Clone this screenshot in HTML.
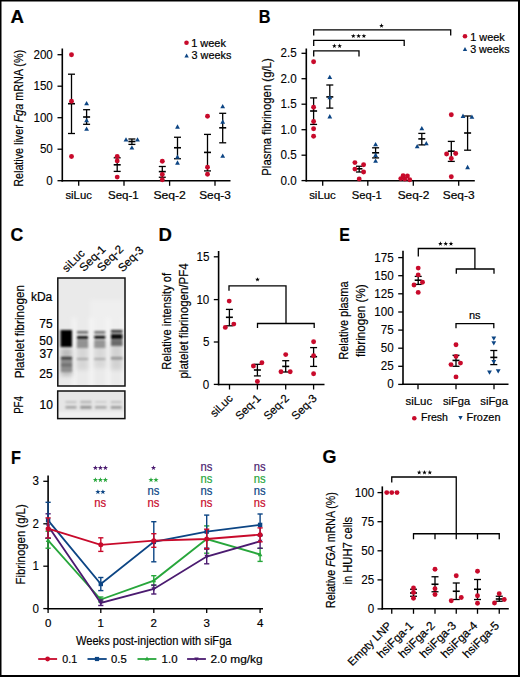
<!DOCTYPE html>
<html><head><meta charset="utf-8"><title>Figure</title>
<style>html,body{margin:0;padding:0;background:#fff;}svg{display:block;}
text{font-family:"Liberation Sans",sans-serif;}</style></head>
<body><svg width="520" height="677" viewBox="0 0 520 677">
<rect width="520" height="677" fill="#fff"/>
<text x="10.63" y="22.6" font-size="17.5" font-weight="bold" fill="#000" stroke="#000" stroke-width="0.2" textLength="13.47" lengthAdjust="spacingAndGlyphs">A</text>
<line x1="62.30" y1="48.50" x2="62.30" y2="181.60" stroke="#000" stroke-width="1.6"/>
<line x1="57.50" y1="54.70" x2="62.30" y2="54.70" stroke="#000" stroke-width="1.3"/>
<text x="33.43" y="58.6" font-size="12" font-weight="normal" fill="#000" stroke="#000" stroke-width="0.1" textLength="19.42" lengthAdjust="spacingAndGlyphs">200</text>
<line x1="57.50" y1="86.20" x2="62.30" y2="86.20" stroke="#000" stroke-width="1.3"/>
<text x="33.43" y="90.1" font-size="12" font-weight="normal" fill="#000" stroke="#000" stroke-width="0.1" textLength="19.42" lengthAdjust="spacingAndGlyphs">150</text>
<line x1="57.50" y1="117.70" x2="62.30" y2="117.70" stroke="#000" stroke-width="1.3"/>
<text x="33.43" y="121.6" font-size="12" font-weight="normal" fill="#000" stroke="#000" stroke-width="0.1" textLength="19.42" lengthAdjust="spacingAndGlyphs">100</text>
<line x1="57.50" y1="149.20" x2="62.30" y2="149.20" stroke="#000" stroke-width="1.3"/>
<text x="39.89" y="153.1" font-size="12" font-weight="normal" fill="#000" stroke="#000" stroke-width="0.1" textLength="12.95" lengthAdjust="spacingAndGlyphs">50</text>
<line x1="57.50" y1="180.70" x2="62.30" y2="180.70" stroke="#000" stroke-width="1.3"/>
<text x="46.35" y="184.6" font-size="12" font-weight="normal" fill="#000" stroke="#000" stroke-width="0.1" textLength="6.47" lengthAdjust="spacingAndGlyphs">0</text>
<line x1="61.50" y1="180.80" x2="230.50" y2="180.80" stroke="#000" stroke-width="1.6"/>
<line x1="78.70" y1="180.80" x2="78.70" y2="185.80" stroke="#000" stroke-width="1.3"/>
<line x1="124.00" y1="180.80" x2="124.00" y2="185.80" stroke="#000" stroke-width="1.3"/>
<line x1="169.60" y1="180.80" x2="169.60" y2="185.80" stroke="#000" stroke-width="1.3"/>
<line x1="215.00" y1="180.80" x2="215.00" y2="185.80" stroke="#000" stroke-width="1.3"/>
<text x="65.46" y="199.1" font-size="11" font-weight="normal" fill="#000" stroke="#000" stroke-width="0.2" textLength="26.42" lengthAdjust="spacingAndGlyphs">siLuc</text>
<text x="107.98" y="199.1" font-size="11" font-weight="normal" fill="#000" stroke="#000" stroke-width="0.2" textLength="30.83" lengthAdjust="spacingAndGlyphs">Seq-1</text>
<text x="153.45" y="199.1" font-size="11" font-weight="normal" fill="#000" stroke="#000" stroke-width="0.2" textLength="32.45" lengthAdjust="spacingAndGlyphs">Seq-2</text>
<text x="199.22" y="199.1" font-size="11" font-weight="normal" fill="#000" stroke="#000" stroke-width="0.2" textLength="31.55" lengthAdjust="spacingAndGlyphs">Seq-3</text>
<line x1="71.50" y1="74.20" x2="71.50" y2="133.50" stroke="#000" stroke-width="1.3"/>
<line x1="68.00" y1="74.20" x2="75.00" y2="74.20" stroke="#000" stroke-width="1.3"/>
<line x1="68.00" y1="133.50" x2="75.00" y2="133.50" stroke="#000" stroke-width="1.3"/>
<line x1="68.00" y1="103.70" x2="75.00" y2="103.70" stroke="#000" stroke-width="1.6"/>
<circle cx="71.50" cy="54.80" r="2.45" fill="#c80a2b"/>
<circle cx="71.50" cy="101.30" r="2.45" fill="#c80a2b"/>
<circle cx="71.50" cy="156.50" r="2.45" fill="#c80a2b"/>
<line x1="86.60" y1="109.70" x2="86.60" y2="124.30" stroke="#000" stroke-width="1.3"/>
<line x1="83.10" y1="109.70" x2="90.10" y2="109.70" stroke="#000" stroke-width="1.3"/>
<line x1="83.10" y1="124.30" x2="90.10" y2="124.30" stroke="#000" stroke-width="1.3"/>
<line x1="83.10" y1="117.00" x2="90.10" y2="117.00" stroke="#000" stroke-width="1.6"/>
<polygon points="86.60,100.91 89.00,105.23 84.20,105.23" fill="#0c4584"/>
<polygon points="86.60,118.01 89.00,122.33 84.20,122.33" fill="#0c4584"/>
<polygon points="86.60,126.41 89.00,130.73 84.20,130.73" fill="#0c4584"/>
<line x1="117.20" y1="157.80" x2="117.20" y2="171.40" stroke="#000" stroke-width="1.3"/>
<line x1="113.70" y1="157.80" x2="120.70" y2="157.80" stroke="#000" stroke-width="1.3"/>
<line x1="113.70" y1="171.40" x2="120.70" y2="171.40" stroke="#000" stroke-width="1.3"/>
<line x1="113.70" y1="164.80" x2="120.70" y2="164.80" stroke="#000" stroke-width="1.6"/>
<circle cx="117.20" cy="156.50" r="2.45" fill="#c80a2b"/>
<circle cx="117.20" cy="160.90" r="2.45" fill="#c80a2b"/>
<circle cx="117.20" cy="177.10" r="2.45" fill="#c80a2b"/>
<line x1="131.90" y1="139.00" x2="131.90" y2="144.40" stroke="#000" stroke-width="1.3"/>
<line x1="128.40" y1="139.00" x2="135.40" y2="139.00" stroke="#000" stroke-width="1.3"/>
<line x1="128.40" y1="144.40" x2="135.40" y2="144.40" stroke="#000" stroke-width="1.3"/>
<line x1="128.40" y1="141.50" x2="135.40" y2="141.50" stroke="#000" stroke-width="1.6"/>
<polygon points="126.00,137.16 128.40,141.48 123.60,141.48" fill="#0c4584"/>
<polygon points="137.50,137.16 139.90,141.48 135.10,141.48" fill="#0c4584"/>
<polygon points="131.90,145.16 134.30,149.48 129.50,149.48" fill="#0c4584"/>
<line x1="162.30" y1="166.50" x2="162.30" y2="177.25" stroke="#000" stroke-width="1.3"/>
<line x1="158.80" y1="166.50" x2="165.80" y2="166.50" stroke="#000" stroke-width="1.3"/>
<line x1="158.80" y1="177.25" x2="165.80" y2="177.25" stroke="#000" stroke-width="1.3"/>
<line x1="158.80" y1="171.60" x2="165.80" y2="171.60" stroke="#000" stroke-width="1.6"/>
<circle cx="162.30" cy="161.25" r="2.45" fill="#c80a2b"/>
<circle cx="162.30" cy="174.40" r="2.45" fill="#c80a2b"/>
<circle cx="162.30" cy="179.75" r="2.45" fill="#c80a2b"/>
<line x1="177.50" y1="137.25" x2="177.50" y2="158.75" stroke="#000" stroke-width="1.3"/>
<line x1="174.00" y1="137.25" x2="181.00" y2="137.25" stroke="#000" stroke-width="1.3"/>
<line x1="174.00" y1="158.75" x2="181.00" y2="158.75" stroke="#000" stroke-width="1.3"/>
<line x1="174.00" y1="147.75" x2="181.00" y2="147.75" stroke="#000" stroke-width="1.6"/>
<polygon points="177.50,124.31 179.90,128.63 175.10,128.63" fill="#0c4584"/>
<polygon points="177.50,154.51 179.90,158.83 175.10,158.83" fill="#0c4584"/>
<polygon points="177.50,160.31 179.90,164.63 175.10,164.63" fill="#0c4584"/>
<line x1="207.50" y1="134.40" x2="207.50" y2="170.90" stroke="#000" stroke-width="1.3"/>
<line x1="204.00" y1="134.40" x2="211.00" y2="134.40" stroke="#000" stroke-width="1.3"/>
<line x1="204.00" y1="170.90" x2="211.00" y2="170.90" stroke="#000" stroke-width="1.3"/>
<line x1="204.00" y1="152.40" x2="211.00" y2="152.40" stroke="#000" stroke-width="1.6"/>
<circle cx="207.50" cy="116.20" r="2.45" fill="#c80a2b"/>
<circle cx="207.50" cy="167.20" r="2.45" fill="#c80a2b"/>
<circle cx="207.50" cy="174.30" r="2.45" fill="#c80a2b"/>
<line x1="222.70" y1="113.30" x2="222.70" y2="142.80" stroke="#000" stroke-width="1.3"/>
<line x1="219.20" y1="113.30" x2="226.20" y2="113.30" stroke="#000" stroke-width="1.3"/>
<line x1="219.20" y1="142.80" x2="226.20" y2="142.80" stroke="#000" stroke-width="1.3"/>
<line x1="219.20" y1="127.80" x2="226.20" y2="127.80" stroke="#000" stroke-width="1.6"/>
<polygon points="222.70,104.01 225.10,108.33 220.30,108.33" fill="#0c4584"/>
<polygon points="222.70,119.31 225.10,123.63 220.30,123.63" fill="#0c4584"/>
<polygon points="222.70,153.51 225.10,157.83 220.30,157.83" fill="#0c4584"/>
<circle cx="186.50" cy="42.80" r="2.3" fill="#c80a2b"/>
<text x="191.18" y="46.8" font-size="10.5" font-weight="normal" fill="#000" stroke="#000" stroke-width="0.2" textLength="34.81" lengthAdjust="spacingAndGlyphs">1 week</text>
<polygon points="186.60,53.62 188.80,57.58 184.40,57.58" fill="#0c4584"/>
<text x="191.57" y="59.2" font-size="10.5" font-weight="normal" fill="#000" stroke="#000" stroke-width="0.2" textLength="39.80" lengthAdjust="spacingAndGlyphs">3 weeks</text>
<text transform="translate(23.2,185.9) rotate(-90)" x="-0.86" y="0" font-size="13.6" font-weight="normal" fill="#000" stroke="#000" stroke-width="0.2" textLength="136.86" lengthAdjust="spacingAndGlyphs">Relative liver <tspan font-style="italic">Fga</tspan> mRNA (%)</text>
<text x="258.85" y="22.6" font-size="17.5" font-weight="bold" fill="#000" stroke="#000" stroke-width="0.2" textLength="11.72" lengthAdjust="spacingAndGlyphs">B</text>
<line x1="306.30" y1="48.50" x2="306.30" y2="181.50" stroke="#000" stroke-width="1.6"/>
<line x1="301.50" y1="53.30" x2="306.30" y2="53.30" stroke="#000" stroke-width="1.3"/>
<text x="280.59" y="57.2" font-size="12" font-weight="normal" fill="#000" stroke="#000" stroke-width="0.1" textLength="16.18" lengthAdjust="spacingAndGlyphs">2.5</text>
<line x1="301.50" y1="78.70" x2="306.30" y2="78.70" stroke="#000" stroke-width="1.3"/>
<text x="280.53" y="82.6" font-size="12" font-weight="normal" fill="#000" stroke="#000" stroke-width="0.1" textLength="16.18" lengthAdjust="spacingAndGlyphs">2.0</text>
<line x1="301.50" y1="104.20" x2="306.30" y2="104.20" stroke="#000" stroke-width="1.3"/>
<text x="280.59" y="108.1" font-size="12" font-weight="normal" fill="#000" stroke="#000" stroke-width="0.1" textLength="16.18" lengthAdjust="spacingAndGlyphs">1.5</text>
<line x1="301.50" y1="129.70" x2="306.30" y2="129.70" stroke="#000" stroke-width="1.3"/>
<text x="280.53" y="133.6" font-size="12" font-weight="normal" fill="#000" stroke="#000" stroke-width="0.1" textLength="16.18" lengthAdjust="spacingAndGlyphs">1.0</text>
<line x1="301.50" y1="155.20" x2="306.30" y2="155.20" stroke="#000" stroke-width="1.3"/>
<text x="280.59" y="159.1" font-size="12" font-weight="normal" fill="#000" stroke="#000" stroke-width="0.1" textLength="16.18" lengthAdjust="spacingAndGlyphs">0.5</text>
<line x1="301.50" y1="180.60" x2="306.30" y2="180.60" stroke="#000" stroke-width="1.3"/>
<text x="280.53" y="184.5" font-size="12" font-weight="normal" fill="#000" stroke="#000" stroke-width="0.1" textLength="16.18" lengthAdjust="spacingAndGlyphs">0.0</text>
<line x1="305.50" y1="180.70" x2="474.80" y2="180.70" stroke="#000" stroke-width="1.6"/>
<line x1="322.70" y1="180.70" x2="322.70" y2="185.70" stroke="#000" stroke-width="1.3"/>
<line x1="367.80" y1="180.70" x2="367.80" y2="185.70" stroke="#000" stroke-width="1.3"/>
<line x1="413.30" y1="180.70" x2="413.30" y2="185.70" stroke="#000" stroke-width="1.3"/>
<line x1="458.70" y1="180.70" x2="458.70" y2="185.70" stroke="#000" stroke-width="1.3"/>
<text x="309.16" y="199.2" font-size="11" font-weight="normal" fill="#000" stroke="#000" stroke-width="0.2" textLength="26.62" lengthAdjust="spacingAndGlyphs">siLuc</text>
<text x="351.89" y="199.2" font-size="11" font-weight="normal" fill="#000" stroke="#000" stroke-width="0.2" textLength="29.95" lengthAdjust="spacingAndGlyphs">Seq-1</text>
<text x="397.67" y="199.2" font-size="11" font-weight="normal" fill="#000" stroke="#000" stroke-width="0.2" textLength="31.67" lengthAdjust="spacingAndGlyphs">Seq-2</text>
<text x="442.76" y="199.2" font-size="11" font-weight="normal" fill="#000" stroke="#000" stroke-width="0.2" textLength="31.75" lengthAdjust="spacingAndGlyphs">Seq-3</text>
<line x1="313.60" y1="97.90" x2="313.60" y2="124.40" stroke="#000" stroke-width="1.3"/>
<line x1="310.10" y1="97.90" x2="317.10" y2="97.90" stroke="#000" stroke-width="1.3"/>
<line x1="310.10" y1="124.40" x2="317.10" y2="124.40" stroke="#000" stroke-width="1.3"/>
<line x1="310.10" y1="111.00" x2="317.10" y2="111.00" stroke="#000" stroke-width="1.6"/>
<circle cx="313.60" cy="61.80" r="2.45" fill="#c80a2b"/>
<circle cx="313.60" cy="107.20" r="2.45" fill="#c80a2b"/>
<circle cx="313.60" cy="121.50" r="2.45" fill="#c80a2b"/>
<circle cx="313.60" cy="128.70" r="2.45" fill="#c80a2b"/>
<circle cx="313.60" cy="136.30" r="2.45" fill="#c80a2b"/>
<line x1="329.80" y1="85.00" x2="329.80" y2="108.10" stroke="#000" stroke-width="1.3"/>
<line x1="326.30" y1="85.00" x2="333.30" y2="85.00" stroke="#000" stroke-width="1.3"/>
<line x1="326.30" y1="108.10" x2="333.30" y2="108.10" stroke="#000" stroke-width="1.3"/>
<line x1="326.30" y1="96.90" x2="333.30" y2="96.90" stroke="#000" stroke-width="1.6"/>
<polygon points="329.80,74.71 332.20,79.03 327.40,79.03" fill="#0c4584"/>
<polygon points="329.80,94.91 332.20,99.23 327.40,99.23" fill="#0c4584"/>
<polygon points="329.80,114.11 332.20,118.43 327.40,118.43" fill="#0c4584"/>
<line x1="359.20" y1="166.25" x2="359.20" y2="172.00" stroke="#000" stroke-width="1.3"/>
<line x1="355.95" y1="166.25" x2="362.45" y2="166.25" stroke="#000" stroke-width="1.3"/>
<line x1="355.95" y1="172.00" x2="362.45" y2="172.00" stroke="#000" stroke-width="1.3"/>
<line x1="355.95" y1="168.80" x2="362.45" y2="168.80" stroke="#000" stroke-width="1.6"/>
<circle cx="354.90" cy="162.60" r="2.45" fill="#c80a2b"/>
<circle cx="363.60" cy="164.80" r="2.45" fill="#c80a2b"/>
<circle cx="354.90" cy="169.10" r="2.45" fill="#c80a2b"/>
<circle cx="363.60" cy="172.00" r="2.45" fill="#c80a2b"/>
<circle cx="359.20" cy="179.00" r="2.45" fill="#c80a2b"/>
<line x1="375.60" y1="147.80" x2="375.60" y2="157.90" stroke="#000" stroke-width="1.3"/>
<line x1="372.10" y1="147.80" x2="379.10" y2="147.80" stroke="#000" stroke-width="1.3"/>
<line x1="372.10" y1="157.90" x2="379.10" y2="157.90" stroke="#000" stroke-width="1.3"/>
<line x1="372.10" y1="152.80" x2="379.10" y2="152.80" stroke="#000" stroke-width="1.6"/>
<polygon points="375.60,142.01 378.00,146.33 373.20,146.33" fill="#0c4584"/>
<polygon points="375.60,152.61 378.00,156.93 373.20,156.93" fill="#0c4584"/>
<polygon points="375.60,158.41 378.00,162.73 373.20,162.73" fill="#0c4584"/>
<circle cx="400.80" cy="178.60" r="2.45" fill="#c80a2b"/>
<circle cx="403.10" cy="175.70" r="2.45" fill="#c80a2b"/>
<circle cx="407.40" cy="176.00" r="2.45" fill="#c80a2b"/>
<circle cx="404.80" cy="179.10" r="2.45" fill="#c80a2b"/>
<circle cx="409.70" cy="179.70" r="2.45" fill="#c80a2b"/>
<line x1="421.80" y1="133.40" x2="421.80" y2="144.90" stroke="#000" stroke-width="1.3"/>
<line x1="418.30" y1="133.40" x2="425.30" y2="133.40" stroke="#000" stroke-width="1.3"/>
<line x1="418.30" y1="144.90" x2="425.30" y2="144.90" stroke="#000" stroke-width="1.3"/>
<line x1="418.30" y1="138.90" x2="425.30" y2="138.90" stroke="#000" stroke-width="1.6"/>
<polygon points="421.80,125.91 424.20,130.23 419.40,130.23" fill="#0c4584"/>
<polygon points="417.20,143.91 419.60,148.23 414.80,148.23" fill="#0c4584"/>
<polygon points="426.30,140.91 428.70,145.23 423.90,145.23" fill="#0c4584"/>
<line x1="451.30" y1="141.40" x2="451.30" y2="161.40" stroke="#000" stroke-width="1.3"/>
<line x1="447.80" y1="141.40" x2="454.80" y2="141.40" stroke="#000" stroke-width="1.3"/>
<line x1="447.80" y1="161.40" x2="454.80" y2="161.40" stroke="#000" stroke-width="1.3"/>
<line x1="447.80" y1="151.20" x2="454.80" y2="151.20" stroke="#000" stroke-width="1.6"/>
<circle cx="451.30" cy="114.70" r="2.45" fill="#c80a2b"/>
<circle cx="446.60" cy="154.00" r="2.45" fill="#c80a2b"/>
<circle cx="455.70" cy="153.50" r="2.45" fill="#c80a2b"/>
<circle cx="451.30" cy="158.50" r="2.45" fill="#c80a2b"/>
<circle cx="451.30" cy="176.70" r="2.45" fill="#c80a2b"/>
<line x1="467.60" y1="116.00" x2="467.60" y2="150.20" stroke="#000" stroke-width="1.3"/>
<line x1="464.10" y1="116.00" x2="471.10" y2="116.00" stroke="#000" stroke-width="1.3"/>
<line x1="464.10" y1="150.20" x2="471.10" y2="150.20" stroke="#000" stroke-width="1.3"/>
<line x1="464.10" y1="133.00" x2="471.10" y2="133.00" stroke="#000" stroke-width="1.6"/>
<polygon points="463.00,113.61 465.40,117.93 460.60,117.93" fill="#0c4584"/>
<polygon points="471.90,114.41 474.30,118.73 469.50,118.73" fill="#0c4584"/>
<polygon points="467.60,164.81 470.00,169.13 465.20,169.13" fill="#0c4584"/>
<polyline points="313.70,35.40 313.70,29.90 450.70,29.90 450.70,35.40" fill="none" stroke="#000" stroke-width="1.3" stroke-linejoin="miter"/>
<polyline points="313.70,46.00 313.70,40.40 404.20,40.40 404.20,46.00" fill="none" stroke="#000" stroke-width="1.3" stroke-linejoin="miter"/>
<polyline points="313.70,56.40 313.70,50.80 359.00,50.80 359.00,56.40" fill="none" stroke="#000" stroke-width="1.3" stroke-linejoin="miter"/>
<polygon points="334.35,43.55 334.93,45.21 336.68,45.24 335.28,46.30 335.79,47.98 334.35,46.98 332.91,47.98 333.42,46.30 332.02,45.24 333.77,45.21" fill="#000"/>
<polygon points="339.65,43.55 340.23,45.21 341.98,45.24 340.58,46.30 341.09,47.98 339.65,46.98 338.21,47.98 338.72,46.30 337.32,45.24 339.07,45.21" fill="#000"/>
<polygon points="353.30,33.65 353.88,35.31 355.63,35.34 354.23,36.40 354.74,38.08 353.30,37.08 351.86,38.08 352.37,36.40 350.97,35.34 352.72,35.31" fill="#000"/>
<polygon points="358.60,33.65 359.18,35.31 360.93,35.34 359.53,36.40 360.04,38.08 358.60,37.08 357.16,38.08 357.67,36.40 356.27,35.34 358.02,35.31" fill="#000"/>
<polygon points="363.90,33.65 364.48,35.31 366.23,35.34 364.83,36.40 365.34,38.08 363.90,37.08 362.46,38.08 362.97,36.40 361.57,35.34 363.32,35.31" fill="#000"/>
<polygon points="381.50,23.35 382.08,25.01 383.83,25.04 382.43,26.10 382.94,27.78 381.50,26.78 380.06,27.78 380.57,26.10 379.17,25.04 380.92,25.01" fill="#000"/>
<circle cx="465.00" cy="36.30" r="2.3" fill="#c80a2b"/>
<text x="470.28" y="40.6" font-size="10.5" font-weight="normal" fill="#000" stroke="#000" stroke-width="0.2" textLength="34.50" lengthAdjust="spacingAndGlyphs">1 week</text>
<polygon points="465.00,46.92 467.20,50.88 462.80,50.88" fill="#0c4584"/>
<text x="470.17" y="52.7" font-size="10.5" font-weight="normal" fill="#000" stroke="#000" stroke-width="0.2" textLength="39.39" lengthAdjust="spacingAndGlyphs">3 weeks</text>
<text transform="translate(270.8,174.8) rotate(-90)" x="-0.91" y="0" font-size="13.6" font-weight="normal" fill="#000" stroke="#000" stroke-width="0.2" textLength="117.43" lengthAdjust="spacingAndGlyphs">Plasma fibrinogen (g/L)</text>
<text x="10.59" y="241.0" font-size="17.5" font-weight="bold" fill="#000" stroke="#000" stroke-width="0.2" textLength="12.79" lengthAdjust="spacingAndGlyphs">C</text>

<defs>
<filter id="bl1" x="-50%" y="-50%" width="200%" height="200%"><feGaussianBlur stdDeviation="1.2"/></filter>
<filter id="bl2" x="-50%" y="-50%" width="200%" height="200%"><feGaussianBlur stdDeviation="2.2"/></filter>
<filter id="bl0" x="-50%" y="-50%" width="200%" height="200%"><feGaussianBlur stdDeviation="0.95"/></filter>
<clipPath id="cpb"><rect x="57.8" y="278" width="67" height="108"/></clipPath>
<clipPath id="cpp"><rect x="57.8" y="391" width="67" height="27.5"/></clipPath>
</defs>
<g clip-path="url(#cpb)">
<rect x="57" y="277" width="69" height="110" fill="#eaeaea"/>
<rect x="90" y="300" width="36" height="40" fill="#efefef" filter="url(#bl2)"/>
<g filter="url(#bl2)" fill="#f6f6f6">
<rect x="72.5" y="318" width="3.5" height="72"/>
<rect x="89.5" y="318" width="4" height="72"/>
<rect x="106.5" y="318" width="3.5" height="72"/>
<rect x="122.5" y="318" width="4" height="72"/>
</g>
<g filter="url(#bl2)">
<rect x="61" y="348" width="11" height="28" fill="#bdbdbd"/>
<rect x="77" y="342" width="11" height="28" fill="#d6d6d6"/>
<rect x="94.5" y="342" width="11" height="26" fill="#d8d8d8"/>
<rect x="111" y="342" width="11" height="28" fill="#d2d2d2"/>
</g>
<g filter="url(#bl1)">
<rect x="60.5" y="330" width="11.5" height="17" fill="#050505"/>
<rect x="61" y="357" width="11" height="15" fill="#8e8e8e"/>
<rect x="61" y="357" width="11" height="2.4" fill="#2a2a2a"/>
<rect x="61" y="363.5" width="11" height="3" fill="#6e6e6e"/>
<rect x="77" y="331" width="11" height="2.6" fill="#6a6a6a"/>
<rect x="77" y="336" width="11" height="3.4" fill="#181818"/>
<rect x="77" y="340" width="11" height="8" fill="#929292"/>
<rect x="77" y="358" width="11" height="2" fill="#a8a8a8"/>
<rect x="94.3" y="331" width="11" height="2.6" fill="#707070"/>
<rect x="94.3" y="335.6" width="11" height="3.4" fill="#151515"/>
<rect x="94.3" y="340" width="11" height="8" fill="#969696"/>
<rect x="94.3" y="358" width="11" height="2" fill="#ababab"/>
<rect x="111" y="330" width="11.5" height="2.6" fill="#2a2a2a"/>
<rect x="111" y="334" width="11.5" height="5.5" fill="#0a0a0a"/>
<rect x="111" y="340" width="11.5" height="6" fill="#6a6a6a"/>
<rect x="111" y="357" width="11.5" height="2.5" fill="#8f8f8f"/>
</g>
</g>
<rect x="57.8" y="278" width="67.2" height="108" fill="none" stroke="#111" stroke-width="1.5"/>
<g clip-path="url(#cpp)">
<rect x="57" y="390" width="69" height="30" fill="#e6e6e6"/>
<rect x="57" y="412" width="69" height="8" fill="#f0f0f0" filter="url(#bl1)"/>
<g filter="url(#bl0)">
<rect x="65.5" y="401" width="11" height="2.2" fill="#c2c2c2"/>
<rect x="65.5" y="406" width="11" height="2.6" fill="#a2a2a2"/>
<rect x="80.3" y="400.8" width="11.2" height="2.4" fill="#b4b4b4"/>
<rect x="80.3" y="405.8" width="11.2" height="3" fill="#939393"/>
<rect x="95" y="401" width="11.5" height="2" fill="#cdcdcd"/>
<rect x="95" y="406" width="11.5" height="2.6" fill="#a6a6a6"/>
<rect x="110.8" y="401" width="10.8" height="2.2" fill="#c0c0c0"/>
<rect x="110.8" y="406" width="10.8" height="2.8" fill="#9c9c9c"/>
</g>
</g>
<rect x="57.7" y="391" width="67.2" height="27.6" fill="none" stroke="#111" stroke-width="1.5"/>

<text x="30.90" y="300.6" font-size="12" font-weight="normal" fill="#000" stroke="#000" stroke-width="0.2" textLength="21.34" lengthAdjust="spacingAndGlyphs">kDa</text>
<text x="39.36" y="327.5" font-size="12" font-weight="normal" fill="#000" stroke="#000" stroke-width="0.2" textLength="13.35" lengthAdjust="spacingAndGlyphs">75</text>
<text x="39.30" y="345.1" font-size="12" font-weight="normal" fill="#000" stroke="#000" stroke-width="0.2" textLength="13.35" lengthAdjust="spacingAndGlyphs">50</text>
<text x="39.48" y="357.9" font-size="12" font-weight="normal" fill="#000" stroke="#000" stroke-width="0.2" textLength="13.35" lengthAdjust="spacingAndGlyphs">37</text>
<text x="39.36" y="377.6" font-size="12" font-weight="normal" fill="#000" stroke="#000" stroke-width="0.2" textLength="13.35" lengthAdjust="spacingAndGlyphs">25</text>
<text x="39.50" y="408.8" font-size="12" font-weight="normal" fill="#000" stroke="#000" stroke-width="0.2" textLength="13.35" lengthAdjust="spacingAndGlyphs">10</text>
<text transform="translate(23.5,377.4) rotate(-90)" x="-0.93" y="0" font-size="13.6" font-weight="normal" fill="#000" stroke="#000" stroke-width="0.2" textLength="93.20" lengthAdjust="spacingAndGlyphs">Platelet fibrinogen</text>
<text transform="translate(22.9,413.1) rotate(-90)" x="-0.78" y="0" font-size="13.6" font-weight="normal" fill="#000" stroke="#000" stroke-width="0.2" textLength="17.86" lengthAdjust="spacingAndGlyphs">PF4</text>
<text transform="translate(67.1,272.4) rotate(-45)" x="-0.34" y="0" font-size="11.3" fill="#000" stroke="#000" stroke-width="0.2" textLength="26.21" lengthAdjust="spacingAndGlyphs">siLuc</text>
<text transform="translate(84.4,271.9) rotate(-45)" x="-0.53" y="0" font-size="11.5" fill="#000" stroke="#000" stroke-width="0.2" textLength="31.50" lengthAdjust="spacingAndGlyphs">Seq-1</text>
<text transform="translate(102.1,271.9) rotate(-45)" x="-0.53" y="0" font-size="11.5" fill="#000" stroke="#000" stroke-width="0.2" textLength="31.57" lengthAdjust="spacingAndGlyphs">Seq-2</text>
<text transform="translate(123.0,272.2) rotate(-45)" x="-0.52" y="0" font-size="11.5" fill="#000" stroke="#000" stroke-width="0.2" textLength="30.62" lengthAdjust="spacingAndGlyphs">Seq-3</text>
<text x="158.40" y="241.1" font-size="17.5" font-weight="bold" fill="#000" stroke="#000" stroke-width="0.2" textLength="13.39" lengthAdjust="spacingAndGlyphs">D</text>
<line x1="218.60" y1="251.00" x2="218.60" y2="385.30" stroke="#000" stroke-width="1.6"/>
<line x1="213.80" y1="256.80" x2="218.60" y2="256.80" stroke="#000" stroke-width="1.3"/>
<text x="196.45" y="261.0" font-size="12" font-weight="normal" fill="#000" stroke="#000" stroke-width="0.1" textLength="12.95" lengthAdjust="spacingAndGlyphs">15</text>
<line x1="213.80" y1="299.60" x2="218.60" y2="299.60" stroke="#000" stroke-width="1.3"/>
<text x="196.39" y="303.8" font-size="12" font-weight="normal" fill="#000" stroke="#000" stroke-width="0.1" textLength="12.95" lengthAdjust="spacingAndGlyphs">10</text>
<line x1="213.80" y1="342.00" x2="218.60" y2="342.00" stroke="#000" stroke-width="1.3"/>
<text x="202.91" y="346.2" font-size="12" font-weight="normal" fill="#000" stroke="#000" stroke-width="0.1" textLength="6.47" lengthAdjust="spacingAndGlyphs">5</text>
<line x1="213.80" y1="384.40" x2="218.60" y2="384.40" stroke="#000" stroke-width="1.3"/>
<text x="202.85" y="388.6" font-size="12" font-weight="normal" fill="#000" stroke="#000" stroke-width="0.1" textLength="6.47" lengthAdjust="spacingAndGlyphs">0</text>
<line x1="217.80" y1="384.50" x2="324.50" y2="384.50" stroke="#000" stroke-width="1.6"/>
<line x1="229.50" y1="384.50" x2="229.50" y2="389.50" stroke="#000" stroke-width="1.3"/>
<line x1="257.40" y1="384.50" x2="257.40" y2="389.50" stroke="#000" stroke-width="1.3"/>
<line x1="285.70" y1="384.50" x2="285.70" y2="389.50" stroke="#000" stroke-width="1.3"/>
<line x1="313.60" y1="384.50" x2="313.60" y2="389.50" stroke="#000" stroke-width="1.3"/>
<text transform="translate(214.68,417.82) rotate(-45)" x="0" y="0" font-size="11.4" fill="#000" stroke="#000" stroke-width="0.2">siLuc</text>
<text transform="translate(239.89,420.51) rotate(-45)" x="0" y="0" font-size="11.4" fill="#000" stroke="#000" stroke-width="0.2">Seq-1</text>
<text transform="translate(268.19,420.51) rotate(-45)" x="0" y="0" font-size="11.4" fill="#000" stroke="#000" stroke-width="0.2">Seq-2</text>
<text transform="translate(296.09,420.51) rotate(-45)" x="0" y="0" font-size="11.4" fill="#000" stroke="#000" stroke-width="0.2">Seq-3</text>
<line x1="229.40" y1="309.40" x2="229.40" y2="325.80" stroke="#000" stroke-width="1.3"/>
<line x1="225.90" y1="309.40" x2="232.90" y2="309.40" stroke="#000" stroke-width="1.3"/>
<line x1="225.90" y1="325.80" x2="232.90" y2="325.80" stroke="#000" stroke-width="1.3"/>
<line x1="225.90" y1="317.30" x2="232.90" y2="317.30" stroke="#000" stroke-width="1.6"/>
<circle cx="229.20" cy="301.10" r="2.45" fill="#c80a2b"/>
<circle cx="225.30" cy="327.40" r="2.45" fill="#c80a2b"/>
<circle cx="233.80" cy="324.10" r="2.45" fill="#c80a2b"/>
<line x1="257.40" y1="364.30" x2="257.40" y2="375.90" stroke="#000" stroke-width="1.3"/>
<line x1="253.90" y1="364.30" x2="260.90" y2="364.30" stroke="#000" stroke-width="1.3"/>
<line x1="253.90" y1="375.90" x2="260.90" y2="375.90" stroke="#000" stroke-width="1.3"/>
<line x1="253.90" y1="370.00" x2="260.90" y2="370.00" stroke="#000" stroke-width="1.6"/>
<circle cx="253.40" cy="366.00" r="2.45" fill="#c80a2b"/>
<circle cx="261.90" cy="362.70" r="2.45" fill="#c80a2b"/>
<circle cx="257.40" cy="381.50" r="2.45" fill="#c80a2b"/>
<line x1="285.70" y1="360.70" x2="285.70" y2="372.00" stroke="#000" stroke-width="1.3"/>
<line x1="282.20" y1="360.70" x2="289.20" y2="360.70" stroke="#000" stroke-width="1.3"/>
<line x1="282.20" y1="372.00" x2="289.20" y2="372.00" stroke="#000" stroke-width="1.3"/>
<line x1="282.20" y1="366.40" x2="289.20" y2="366.40" stroke="#000" stroke-width="1.6"/>
<circle cx="285.70" cy="354.60" r="2.45" fill="#c80a2b"/>
<circle cx="281.00" cy="371.80" r="2.45" fill="#c80a2b"/>
<circle cx="290.20" cy="371.80" r="2.45" fill="#c80a2b"/>
<line x1="313.60" y1="347.60" x2="313.60" y2="366.40" stroke="#000" stroke-width="1.3"/>
<line x1="310.10" y1="347.60" x2="317.10" y2="347.60" stroke="#000" stroke-width="1.3"/>
<line x1="310.10" y1="366.40" x2="317.10" y2="366.40" stroke="#000" stroke-width="1.3"/>
<line x1="310.10" y1="356.70" x2="317.10" y2="356.70" stroke="#000" stroke-width="1.6"/>
<circle cx="313.60" cy="341.70" r="2.45" fill="#c80a2b"/>
<circle cx="313.60" cy="355.70" r="2.45" fill="#c80a2b"/>
<circle cx="313.60" cy="373.80" r="2.45" fill="#c80a2b"/>
<polyline points="229.00,290.80 229.00,285.80 286.00,285.80 286.00,323.50" fill="none" stroke="#000" stroke-width="1.3" stroke-linejoin="miter"/>
<polyline points="257.50,328.00 257.50,323.50 314.20,323.50 314.20,328.00" fill="none" stroke="#000" stroke-width="1.3" stroke-linejoin="miter"/>
<polygon points="257.50,277.15 258.08,278.81 259.83,278.84 258.43,279.90 258.94,281.58 257.50,280.58 256.06,281.58 256.57,279.90 255.17,278.84 256.92,278.81" fill="#000"/>
<text transform="translate(170.5,368.9) rotate(-90)" x="-0.89" y="0" font-size="13.6" font-weight="normal" fill="#000" stroke="#000" stroke-width="0.2" textLength="96.95" lengthAdjust="spacingAndGlyphs">Relative intensity of</text>
<text transform="translate(187.7,377.8) rotate(-90)" x="-0.75" y="0" font-size="13.6" font-weight="normal" fill="#000" stroke="#000" stroke-width="0.2" textLength="115.21" lengthAdjust="spacingAndGlyphs">platelet fibrinogen/PF4</text>
<text x="339.26" y="241.0" font-size="17.5" font-weight="bold" fill="#000" stroke="#000" stroke-width="0.2" textLength="10.63" lengthAdjust="spacingAndGlyphs">E</text>
<line x1="403.00" y1="250.80" x2="403.00" y2="385.10" stroke="#000" stroke-width="1.6"/>
<line x1="398.20" y1="257.60" x2="403.00" y2="257.60" stroke="#000" stroke-width="1.3"/>
<text x="374.29" y="261.5" font-size="12" font-weight="normal" fill="#000" stroke="#000" stroke-width="0.1" textLength="19.42" lengthAdjust="spacingAndGlyphs">175</text>
<line x1="398.20" y1="275.70" x2="403.00" y2="275.70" stroke="#000" stroke-width="1.3"/>
<text x="374.23" y="279.6" font-size="12" font-weight="normal" fill="#000" stroke="#000" stroke-width="0.1" textLength="19.42" lengthAdjust="spacingAndGlyphs">150</text>
<line x1="398.20" y1="293.80" x2="403.00" y2="293.80" stroke="#000" stroke-width="1.3"/>
<text x="374.29" y="297.7" font-size="12" font-weight="normal" fill="#000" stroke="#000" stroke-width="0.1" textLength="19.42" lengthAdjust="spacingAndGlyphs">125</text>
<line x1="398.20" y1="312.00" x2="403.00" y2="312.00" stroke="#000" stroke-width="1.3"/>
<text x="374.23" y="315.9" font-size="12" font-weight="normal" fill="#000" stroke="#000" stroke-width="0.1" textLength="19.42" lengthAdjust="spacingAndGlyphs">100</text>
<line x1="398.20" y1="330.10" x2="403.00" y2="330.10" stroke="#000" stroke-width="1.3"/>
<text x="380.75" y="334.0" font-size="12" font-weight="normal" fill="#000" stroke="#000" stroke-width="0.1" textLength="12.95" lengthAdjust="spacingAndGlyphs">75</text>
<line x1="398.20" y1="348.20" x2="403.00" y2="348.20" stroke="#000" stroke-width="1.3"/>
<text x="380.69" y="352.1" font-size="12" font-weight="normal" fill="#000" stroke="#000" stroke-width="0.1" textLength="12.95" lengthAdjust="spacingAndGlyphs">50</text>
<line x1="398.20" y1="366.30" x2="403.00" y2="366.30" stroke="#000" stroke-width="1.3"/>
<text x="380.75" y="370.2" font-size="12" font-weight="normal" fill="#000" stroke="#000" stroke-width="0.1" textLength="12.95" lengthAdjust="spacingAndGlyphs">25</text>
<line x1="398.20" y1="384.40" x2="403.00" y2="384.40" stroke="#000" stroke-width="1.3"/>
<text x="387.15" y="388.3" font-size="12" font-weight="normal" fill="#000" stroke="#000" stroke-width="0.1" textLength="6.47" lengthAdjust="spacingAndGlyphs">0</text>
<line x1="402.20" y1="384.30" x2="508.50" y2="384.30" stroke="#000" stroke-width="1.6"/>
<line x1="418.00" y1="384.30" x2="418.00" y2="389.30" stroke="#000" stroke-width="1.3"/>
<line x1="456.00" y1="384.30" x2="456.00" y2="389.30" stroke="#000" stroke-width="1.3"/>
<line x1="494.00" y1="384.30" x2="494.00" y2="389.30" stroke="#000" stroke-width="1.3"/>
<text x="405.46" y="405.0" font-size="11" font-weight="normal" fill="#000" stroke="#000" stroke-width="0.2" textLength="26.72" lengthAdjust="spacingAndGlyphs">siLuc</text>
<text x="443.07" y="405.0" font-size="11" font-weight="normal" fill="#000" stroke="#000" stroke-width="0.2" textLength="27.14" lengthAdjust="spacingAndGlyphs">siFga</text>
<text x="480.26" y="405.0" font-size="11" font-weight="normal" fill="#000" stroke="#000" stroke-width="0.2" textLength="27.74" lengthAdjust="spacingAndGlyphs">siFga</text>
<line x1="418.20" y1="276.40" x2="418.20" y2="284.40" stroke="#000" stroke-width="1.3"/>
<line x1="414.70" y1="276.40" x2="421.70" y2="276.40" stroke="#000" stroke-width="1.3"/>
<line x1="414.70" y1="284.40" x2="421.70" y2="284.40" stroke="#000" stroke-width="1.3"/>
<line x1="414.70" y1="280.20" x2="421.70" y2="280.20" stroke="#000" stroke-width="1.6"/>
<circle cx="418.20" cy="268.10" r="2.45" fill="#c80a2b"/>
<circle cx="418.20" cy="274.90" r="2.45" fill="#c80a2b"/>
<circle cx="414.00" cy="285.00" r="2.45" fill="#c80a2b"/>
<circle cx="422.50" cy="282.30" r="2.45" fill="#c80a2b"/>
<circle cx="418.20" cy="292.40" r="2.45" fill="#c80a2b"/>
<line x1="456.00" y1="355.30" x2="456.00" y2="366.30" stroke="#000" stroke-width="1.3"/>
<line x1="452.50" y1="355.30" x2="459.50" y2="355.30" stroke="#000" stroke-width="1.3"/>
<line x1="452.50" y1="366.30" x2="459.50" y2="366.30" stroke="#000" stroke-width="1.3"/>
<line x1="452.50" y1="360.40" x2="459.50" y2="360.40" stroke="#000" stroke-width="1.6"/>
<circle cx="456.00" cy="344.70" r="2.45" fill="#c80a2b"/>
<circle cx="456.00" cy="356.40" r="2.45" fill="#c80a2b"/>
<circle cx="451.00" cy="364.60" r="2.45" fill="#c80a2b"/>
<circle cx="460.50" cy="363.10" r="2.45" fill="#c80a2b"/>
<circle cx="456.00" cy="376.90" r="2.45" fill="#c80a2b"/>
<line x1="493.80" y1="350.50" x2="493.80" y2="364.60" stroke="#000" stroke-width="1.3"/>
<line x1="490.30" y1="350.50" x2="497.30" y2="350.50" stroke="#000" stroke-width="1.3"/>
<line x1="490.30" y1="364.60" x2="497.30" y2="364.60" stroke="#000" stroke-width="1.3"/>
<line x1="490.30" y1="357.40" x2="497.30" y2="357.40" stroke="#000" stroke-width="1.6"/>
<polygon points="493.80,340.79 496.20,336.47 491.40,336.47" fill="#0c4584"/>
<polygon points="493.80,345.59 496.20,341.27 491.40,341.27" fill="#0c4584"/>
<polygon points="493.80,364.29 496.20,359.97 491.40,359.97" fill="#0c4584"/>
<polygon points="489.50,374.79 491.90,370.47 487.10,370.47" fill="#0c4584"/>
<polygon points="498.20,373.59 500.60,369.27 495.80,369.27" fill="#0c4584"/>
<polyline points="418.30,256.50 418.30,248.50 474.90,248.50 474.90,269.00" fill="none" stroke="#000" stroke-width="1.3" stroke-linejoin="miter"/>
<polyline points="456.30,273.80 456.30,269.00 494.00,269.00 494.00,273.80" fill="none" stroke="#000" stroke-width="1.3" stroke-linejoin="miter"/>
<polygon points="440.40,241.35 440.98,243.01 442.73,243.04 441.33,244.10 441.84,245.78 440.40,244.78 438.96,245.78 439.47,244.10 438.07,243.04 439.82,243.01" fill="#000"/>
<polygon points="445.70,241.35 446.28,243.01 448.03,243.04 446.63,244.10 447.14,245.78 445.70,244.78 444.26,245.78 444.77,244.10 443.37,243.04 445.12,243.01" fill="#000"/>
<polygon points="451.00,241.35 451.58,243.01 453.33,243.04 451.93,244.10 452.44,245.78 451.00,244.78 449.56,245.78 450.07,244.10 448.67,243.04 450.42,243.01" fill="#000"/>
<polyline points="456.00,328.30 456.00,323.60 493.80,323.60 493.80,328.30" fill="none" stroke="#000" stroke-width="1.3" stroke-linejoin="miter"/>
<text x="468.93" y="319.4" font-size="11" font-weight="normal" fill="#000" stroke="#000" stroke-width="0.2" textLength="11.62" lengthAdjust="spacingAndGlyphs">ns</text>
<circle cx="414.30" cy="418.20" r="2.3" fill="#c80a2b"/>
<text x="421.06" y="421.4" font-size="10.3" font-weight="normal" fill="#000" stroke="#000" stroke-width="0.2" textLength="26.94" lengthAdjust="spacingAndGlyphs">Fresh</text>
<polygon points="460.50,420.08 462.70,416.12 458.30,416.12" fill="#0c4584"/>
<text x="466.53" y="421.4" font-size="10.3" font-weight="normal" fill="#000" stroke="#000" stroke-width="0.2" textLength="34.01" lengthAdjust="spacingAndGlyphs">Frozen</text>
<text transform="translate(348.4,358.8) rotate(-90)" x="-0.88" y="0" font-size="13.6" font-weight="normal" fill="#000" stroke="#000" stroke-width="0.2" textLength="78.17" lengthAdjust="spacingAndGlyphs">Relative plasma</text>
<text transform="translate(365.4,356.8) rotate(-90)" x="-0.18" y="0" font-size="13.6" font-weight="normal" fill="#000" stroke="#000" stroke-width="0.2" textLength="72.64" lengthAdjust="spacingAndGlyphs">fibrinogen (%)</text>
<text x="10.94" y="463.5" font-size="17.5" font-weight="bold" fill="#000" stroke="#000" stroke-width="0.2" textLength="9.94" lengthAdjust="spacingAndGlyphs">F</text>
<line x1="48.10" y1="475.60" x2="48.10" y2="609.50" stroke="#000" stroke-width="1.6"/>
<line x1="43.30" y1="481.30" x2="48.10" y2="481.30" stroke="#000" stroke-width="1.3"/>
<text x="32.51" y="485.2" font-size="12" font-weight="normal" fill="#000" stroke="#000" stroke-width="0.1" textLength="6.47" lengthAdjust="spacingAndGlyphs">3</text>
<line x1="43.30" y1="523.80" x2="48.10" y2="523.80" stroke="#000" stroke-width="1.3"/>
<text x="32.62" y="527.7" font-size="12" font-weight="normal" fill="#000" stroke="#000" stroke-width="0.1" textLength="6.47" lengthAdjust="spacingAndGlyphs">2</text>
<line x1="43.30" y1="566.20" x2="48.10" y2="566.20" stroke="#000" stroke-width="1.3"/>
<text x="32.56" y="570.1" font-size="12" font-weight="normal" fill="#000" stroke="#000" stroke-width="0.1" textLength="6.47" lengthAdjust="spacingAndGlyphs">1</text>
<line x1="43.30" y1="608.60" x2="48.10" y2="608.60" stroke="#000" stroke-width="1.3"/>
<text x="32.45" y="612.5" font-size="12" font-weight="normal" fill="#000" stroke="#000" stroke-width="0.1" textLength="6.47" lengthAdjust="spacingAndGlyphs">0</text>
<line x1="47.30" y1="608.70" x2="263.00" y2="608.70" stroke="#000" stroke-width="1.6"/>
<line x1="48.10" y1="608.70" x2="48.10" y2="612.90" stroke="#000" stroke-width="1.3"/>
<line x1="100.80" y1="608.70" x2="100.80" y2="612.90" stroke="#000" stroke-width="1.3"/>
<line x1="153.80" y1="608.70" x2="153.80" y2="612.90" stroke="#000" stroke-width="1.3"/>
<line x1="206.70" y1="608.70" x2="206.70" y2="612.90" stroke="#000" stroke-width="1.3"/>
<line x1="260.10" y1="608.70" x2="260.10" y2="612.90" stroke="#000" stroke-width="1.3"/>
<text x="44.88" y="627.0" font-size="11.5" font-weight="normal" fill="#000" stroke="#000" stroke-width="0.2" textLength="6.40" lengthAdjust="spacingAndGlyphs">0</text>
<text x="97.44" y="627.0" font-size="11.5" font-weight="normal" fill="#000" stroke="#000" stroke-width="0.2" textLength="6.40" lengthAdjust="spacingAndGlyphs">1</text>
<text x="150.61" y="627.0" font-size="11.5" font-weight="normal" fill="#000" stroke="#000" stroke-width="0.2" textLength="6.40" lengthAdjust="spacingAndGlyphs">2</text>
<text x="203.51" y="627.0" font-size="11.5" font-weight="normal" fill="#000" stroke="#000" stroke-width="0.2" textLength="6.40" lengthAdjust="spacingAndGlyphs">3</text>
<text x="256.97" y="627.0" font-size="11.5" font-weight="normal" fill="#000" stroke="#000" stroke-width="0.2" textLength="6.40" lengthAdjust="spacingAndGlyphs">4</text>
<text x="75.94" y="645.4" font-size="13.6" font-weight="normal" fill="#000" stroke="#000" stroke-width="0.2" textLength="155.58" lengthAdjust="spacingAndGlyphs">Weeks post-injection with siFga</text>
<line x1="48.10" y1="531.20" x2="48.10" y2="548.20" stroke="#27a63b" stroke-width="1.4"/>
<line x1="45.50" y1="531.20" x2="50.70" y2="531.20" stroke="#27a63b" stroke-width="1.4"/>
<line x1="45.50" y1="548.20" x2="50.70" y2="548.20" stroke="#27a63b" stroke-width="1.4"/>
<line x1="100.80" y1="597.00" x2="100.80" y2="602.00" stroke="#27a63b" stroke-width="1.4"/>
<line x1="98.20" y1="597.00" x2="103.40" y2="597.00" stroke="#27a63b" stroke-width="1.4"/>
<line x1="98.20" y1="602.00" x2="103.40" y2="602.00" stroke="#27a63b" stroke-width="1.4"/>
<line x1="153.80" y1="575.70" x2="153.80" y2="585.40" stroke="#27a63b" stroke-width="1.4"/>
<line x1="151.20" y1="575.70" x2="156.40" y2="575.70" stroke="#27a63b" stroke-width="1.4"/>
<line x1="151.20" y1="585.40" x2="156.40" y2="585.40" stroke="#27a63b" stroke-width="1.4"/>
<line x1="206.70" y1="525.90" x2="206.70" y2="553.20" stroke="#27a63b" stroke-width="1.4"/>
<line x1="204.10" y1="525.90" x2="209.30" y2="525.90" stroke="#27a63b" stroke-width="1.4"/>
<line x1="204.10" y1="553.20" x2="209.30" y2="553.20" stroke="#27a63b" stroke-width="1.4"/>
<line x1="260.10" y1="548.30" x2="260.10" y2="561.40" stroke="#27a63b" stroke-width="1.4"/>
<line x1="257.50" y1="548.30" x2="262.70" y2="548.30" stroke="#27a63b" stroke-width="1.4"/>
<line x1="257.50" y1="561.40" x2="262.70" y2="561.40" stroke="#27a63b" stroke-width="1.4"/>
<polyline points="48.10,540.30 100.80,599.50 153.80,580.60 206.70,539.00 260.10,554.50" fill="none" stroke="#27a63b" stroke-width="1.85" stroke-linejoin="miter"/>
<polygon points="48.10,537.82 50.40,541.96 45.80,541.96" fill="#27a63b"/>
<polygon points="100.80,597.02 103.10,601.16 98.50,601.16" fill="#27a63b"/>
<polygon points="153.80,578.12 156.10,582.26 151.50,582.26" fill="#27a63b"/>
<polygon points="206.70,536.52 209.00,540.66 204.40,540.66" fill="#27a63b"/>
<polygon points="260.10,552.02 262.40,556.16 257.80,556.16" fill="#27a63b"/>
<line x1="48.10" y1="513.80" x2="48.10" y2="538.30" stroke="#4b1b70" stroke-width="1.4"/>
<line x1="45.50" y1="513.80" x2="50.70" y2="513.80" stroke="#4b1b70" stroke-width="1.4"/>
<line x1="45.50" y1="538.30" x2="50.70" y2="538.30" stroke="#4b1b70" stroke-width="1.4"/>
<line x1="100.80" y1="600.00" x2="100.80" y2="605.50" stroke="#4b1b70" stroke-width="1.4"/>
<line x1="98.20" y1="600.00" x2="103.40" y2="600.00" stroke="#4b1b70" stroke-width="1.4"/>
<line x1="98.20" y1="605.50" x2="103.40" y2="605.50" stroke="#4b1b70" stroke-width="1.4"/>
<line x1="153.80" y1="585.00" x2="153.80" y2="594.00" stroke="#4b1b70" stroke-width="1.4"/>
<line x1="151.20" y1="585.00" x2="156.40" y2="585.00" stroke="#4b1b70" stroke-width="1.4"/>
<line x1="151.20" y1="594.00" x2="156.40" y2="594.00" stroke="#4b1b70" stroke-width="1.4"/>
<line x1="206.70" y1="549.20" x2="206.70" y2="563.80" stroke="#4b1b70" stroke-width="1.4"/>
<line x1="204.10" y1="549.20" x2="209.30" y2="549.20" stroke="#4b1b70" stroke-width="1.4"/>
<line x1="204.10" y1="563.80" x2="209.30" y2="563.80" stroke="#4b1b70" stroke-width="1.4"/>
<line x1="260.10" y1="535.00" x2="260.10" y2="548.30" stroke="#4b1b70" stroke-width="1.4"/>
<line x1="257.50" y1="535.00" x2="262.70" y2="535.00" stroke="#4b1b70" stroke-width="1.4"/>
<line x1="257.50" y1="548.30" x2="262.70" y2="548.30" stroke="#4b1b70" stroke-width="1.4"/>
<polyline points="48.10,526.00 100.80,602.90 153.80,589.00 206.70,556.50 260.10,541.30" fill="none" stroke="#4b1b70" stroke-width="1.85" stroke-linejoin="miter"/>
<polygon points="48.10,528.48 50.40,524.34 45.80,524.34" fill="#4b1b70"/>
<polygon points="100.80,605.38 103.10,601.24 98.50,601.24" fill="#4b1b70"/>
<polygon points="153.80,591.48 156.10,587.34 151.50,587.34" fill="#4b1b70"/>
<polygon points="206.70,558.98 209.00,554.84 204.40,554.84" fill="#4b1b70"/>
<polygon points="260.10,543.78 262.40,539.64 257.80,539.64" fill="#4b1b70"/>
<line x1="48.10" y1="502.30" x2="48.10" y2="538.30" stroke="#0c4584" stroke-width="1.4"/>
<line x1="45.50" y1="502.30" x2="50.70" y2="502.30" stroke="#0c4584" stroke-width="1.4"/>
<line x1="45.50" y1="538.30" x2="50.70" y2="538.30" stroke="#0c4584" stroke-width="1.4"/>
<line x1="100.80" y1="577.50" x2="100.80" y2="590.60" stroke="#0c4584" stroke-width="1.4"/>
<line x1="98.20" y1="577.50" x2="103.40" y2="577.50" stroke="#0c4584" stroke-width="1.4"/>
<line x1="98.20" y1="590.60" x2="103.40" y2="590.60" stroke="#0c4584" stroke-width="1.4"/>
<line x1="153.80" y1="521.70" x2="153.80" y2="561.80" stroke="#0c4584" stroke-width="1.4"/>
<line x1="151.20" y1="521.70" x2="156.40" y2="521.70" stroke="#0c4584" stroke-width="1.4"/>
<line x1="151.20" y1="561.80" x2="156.40" y2="561.80" stroke="#0c4584" stroke-width="1.4"/>
<line x1="206.70" y1="515.10" x2="206.70" y2="548.10" stroke="#0c4584" stroke-width="1.4"/>
<line x1="204.10" y1="515.10" x2="209.30" y2="515.10" stroke="#0c4584" stroke-width="1.4"/>
<line x1="204.10" y1="548.10" x2="209.30" y2="548.10" stroke="#0c4584" stroke-width="1.4"/>
<line x1="260.10" y1="514.00" x2="260.10" y2="535.80" stroke="#0c4584" stroke-width="1.4"/>
<line x1="257.50" y1="514.00" x2="262.70" y2="514.00" stroke="#0c4584" stroke-width="1.4"/>
<line x1="257.50" y1="535.80" x2="262.70" y2="535.80" stroke="#0c4584" stroke-width="1.4"/>
<polyline points="48.10,520.30 100.80,584.00 153.80,541.90 206.70,531.60 260.10,524.90" fill="none" stroke="#0c4584" stroke-width="1.85" stroke-linejoin="miter"/>
<rect x="45.90" y="518.10" width="4.4" height="4.4" fill="#0c4584"/>
<rect x="98.60" y="581.80" width="4.4" height="4.4" fill="#0c4584"/>
<rect x="151.60" y="539.70" width="4.4" height="4.4" fill="#0c4584"/>
<rect x="204.50" y="529.40" width="4.4" height="4.4" fill="#0c4584"/>
<rect x="257.90" y="522.70" width="4.4" height="4.4" fill="#0c4584"/>
<line x1="48.10" y1="517.90" x2="48.10" y2="538.00" stroke="#c80a2b" stroke-width="1.4"/>
<line x1="45.50" y1="517.90" x2="50.70" y2="517.90" stroke="#c80a2b" stroke-width="1.4"/>
<line x1="45.50" y1="538.00" x2="50.70" y2="538.00" stroke="#c80a2b" stroke-width="1.4"/>
<line x1="100.80" y1="537.80" x2="100.80" y2="551.40" stroke="#c80a2b" stroke-width="1.4"/>
<line x1="98.20" y1="537.80" x2="103.40" y2="537.80" stroke="#c80a2b" stroke-width="1.4"/>
<line x1="98.20" y1="551.40" x2="103.40" y2="551.40" stroke="#c80a2b" stroke-width="1.4"/>
<line x1="153.80" y1="533.70" x2="153.80" y2="547.30" stroke="#c80a2b" stroke-width="1.4"/>
<line x1="151.20" y1="533.70" x2="156.40" y2="533.70" stroke="#c80a2b" stroke-width="1.4"/>
<line x1="151.20" y1="547.30" x2="156.40" y2="547.30" stroke="#c80a2b" stroke-width="1.4"/>
<line x1="206.70" y1="529.20" x2="206.70" y2="548.60" stroke="#c80a2b" stroke-width="1.4"/>
<line x1="204.10" y1="529.20" x2="209.30" y2="529.20" stroke="#c80a2b" stroke-width="1.4"/>
<line x1="204.10" y1="548.60" x2="209.30" y2="548.60" stroke="#c80a2b" stroke-width="1.4"/>
<line x1="260.10" y1="527.90" x2="260.10" y2="541.80" stroke="#c80a2b" stroke-width="1.4"/>
<line x1="257.50" y1="527.90" x2="262.70" y2="527.90" stroke="#c80a2b" stroke-width="1.4"/>
<line x1="257.50" y1="541.80" x2="262.70" y2="541.80" stroke="#c80a2b" stroke-width="1.4"/>
<polyline points="48.10,528.70 100.80,544.80 153.80,540.70 206.70,539.00 260.10,534.70" fill="none" stroke="#c80a2b" stroke-width="1.85" stroke-linejoin="miter"/>
<circle cx="48.10" cy="528.70" r="2.5" fill="#c80a2b"/>
<circle cx="100.80" cy="544.80" r="2.5" fill="#c80a2b"/>
<circle cx="153.80" cy="540.70" r="2.5" fill="#c80a2b"/>
<circle cx="206.70" cy="539.00" r="2.5" fill="#c80a2b"/>
<circle cx="260.10" cy="534.70" r="2.5" fill="#c80a2b"/>
<polygon points="95.40,465.15 96.05,467.01 98.02,467.05 96.45,468.24 97.02,470.12 95.40,469.00 93.78,470.12 94.35,468.24 92.78,467.05 94.75,467.01" fill="#4b1b70"/>
<polygon points="100.40,465.15 101.05,467.01 103.02,467.05 101.45,468.24 102.02,470.12 100.40,469.00 98.78,470.12 99.35,468.24 97.78,467.05 99.75,467.01" fill="#4b1b70"/>
<polygon points="105.40,465.15 106.05,467.01 108.02,467.05 106.45,468.24 107.02,470.12 105.40,469.00 103.78,470.12 104.35,468.24 102.78,467.05 104.75,467.01" fill="#4b1b70"/>
<polygon points="95.40,477.25 96.05,479.11 98.02,479.15 96.45,480.34 97.02,482.22 95.40,481.10 93.78,482.22 94.35,480.34 92.78,479.15 94.75,479.11" fill="#27a63b"/>
<polygon points="100.40,477.25 101.05,479.11 103.02,479.15 101.45,480.34 102.02,482.22 100.40,481.10 98.78,482.22 99.35,480.34 97.78,479.15 99.75,479.11" fill="#27a63b"/>
<polygon points="105.40,477.25 106.05,479.11 108.02,479.15 106.45,480.34 107.02,482.22 105.40,481.10 103.78,482.22 104.35,480.34 102.78,479.15 104.75,479.11" fill="#27a63b"/>
<polygon points="97.90,489.25 98.55,491.11 100.52,491.15 98.95,492.34 99.52,494.22 97.90,493.10 96.28,494.22 96.85,492.34 95.28,491.15 97.25,491.11" fill="#0c4584"/>
<polygon points="102.90,489.25 103.55,491.11 105.52,491.15 103.95,492.34 104.52,494.22 102.90,493.10 101.28,494.22 101.85,492.34 100.28,491.15 102.25,491.11" fill="#0c4584"/>
<text x="94.30" y="507.0" font-size="12.5" font-weight="normal" fill="#c80a2b" stroke="#c80a2b" stroke-width="0.2" textLength="11.88" lengthAdjust="spacingAndGlyphs">ns</text>
<polygon points="153.50,465.15 154.15,467.01 156.12,467.05 154.55,468.24 155.12,470.12 153.50,469.00 151.88,470.12 152.45,468.24 150.88,467.05 152.85,467.01" fill="#4b1b70"/>
<polygon points="151.00,477.25 151.65,479.11 153.62,479.15 152.05,480.34 152.62,482.22 151.00,481.10 149.38,482.22 149.95,480.34 148.38,479.15 150.35,479.11" fill="#27a63b"/>
<polygon points="156.00,477.25 156.65,479.11 158.62,479.15 157.05,480.34 157.62,482.22 156.00,481.10 154.38,482.22 154.95,480.34 153.38,479.15 155.35,479.11" fill="#27a63b"/>
<text x="147.40" y="495.0" font-size="12.5" font-weight="normal" fill="#0c4584" stroke="#0c4584" stroke-width="0.2" textLength="11.88" lengthAdjust="spacingAndGlyphs">ns</text>
<text x="147.40" y="507.0" font-size="12.5" font-weight="normal" fill="#c80a2b" stroke="#c80a2b" stroke-width="0.2" textLength="11.88" lengthAdjust="spacingAndGlyphs">ns</text>
<text x="200.40" y="470.9" font-size="12.5" font-weight="normal" fill="#4b1b70" stroke="#4b1b70" stroke-width="0.2" textLength="11.88" lengthAdjust="spacingAndGlyphs">ns</text>
<text x="200.40" y="483.0" font-size="12.5" font-weight="normal" fill="#27a63b" stroke="#27a63b" stroke-width="0.2" textLength="11.88" lengthAdjust="spacingAndGlyphs">ns</text>
<text x="200.40" y="495.0" font-size="12.5" font-weight="normal" fill="#0c4584" stroke="#0c4584" stroke-width="0.2" textLength="11.88" lengthAdjust="spacingAndGlyphs">ns</text>
<text x="200.40" y="507.0" font-size="12.5" font-weight="normal" fill="#c80a2b" stroke="#c80a2b" stroke-width="0.2" textLength="11.88" lengthAdjust="spacingAndGlyphs">ns</text>
<text x="253.70" y="470.9" font-size="12.5" font-weight="normal" fill="#4b1b70" stroke="#4b1b70" stroke-width="0.2" textLength="11.88" lengthAdjust="spacingAndGlyphs">ns</text>
<text x="253.70" y="483.0" font-size="12.5" font-weight="normal" fill="#27a63b" stroke="#27a63b" stroke-width="0.2" textLength="11.88" lengthAdjust="spacingAndGlyphs">ns</text>
<text x="253.70" y="495.0" font-size="12.5" font-weight="normal" fill="#0c4584" stroke="#0c4584" stroke-width="0.2" textLength="11.88" lengthAdjust="spacingAndGlyphs">ns</text>
<text x="253.70" y="507.0" font-size="12.5" font-weight="normal" fill="#c80a2b" stroke="#c80a2b" stroke-width="0.2" textLength="11.88" lengthAdjust="spacingAndGlyphs">ns</text>
<line x1="38.20" y1="659.00" x2="57.10" y2="659.00" stroke="#c80a2b" stroke-width="1.8"/>
<circle cx="47.60" cy="659.00" r="2.4" fill="#c80a2b"/>
<text x="62.37" y="663.4" font-size="11.3" font-weight="normal" fill="#000" stroke="#000" stroke-width="0.2" textLength="14.81" lengthAdjust="spacingAndGlyphs">0.1</text>
<line x1="87.50" y1="659.00" x2="106.70" y2="659.00" stroke="#0c4584" stroke-width="1.8"/>
<rect x="94.90" y="656.90" width="4.2" height="4.2" fill="#0c4584"/>
<text x="111.05" y="663.4" font-size="11.3" font-weight="normal" fill="#000" stroke="#000" stroke-width="0.2" textLength="15.71" lengthAdjust="spacingAndGlyphs">0.5</text>
<line x1="137.50" y1="659.00" x2="156.40" y2="659.00" stroke="#27a63b" stroke-width="1.8"/>
<polygon points="147.00,656.62 149.20,660.58 144.80,660.58" fill="#27a63b"/>
<text x="161.64" y="663.4" font-size="11.3" font-weight="normal" fill="#000" stroke="#000" stroke-width="0.2" textLength="15.86" lengthAdjust="spacingAndGlyphs">1.0</text>
<line x1="187.10" y1="659.00" x2="205.90" y2="659.00" stroke="#4b1b70" stroke-width="1.8"/>
<polygon points="196.50,661.38 198.70,657.42 194.30,657.42" fill="#4b1b70"/>
<text x="210.40" y="663.4" font-size="11.3" font-weight="normal" fill="#000" stroke="#000" stroke-width="0.2" textLength="52.28" lengthAdjust="spacingAndGlyphs">2.0 mg/kg</text>
<text transform="translate(24.5,583.6) rotate(-90)" x="-0.91" y="0" font-size="13.6" font-weight="normal" fill="#000" stroke="#000" stroke-width="0.2" textLength="80.24" lengthAdjust="spacingAndGlyphs">Fibrinogen (g/L)</text>
<text x="322.58" y="463.4" font-size="18.3" font-weight="bold" fill="#000" stroke="#000" stroke-width="0.2" textLength="13.94" lengthAdjust="spacingAndGlyphs">G</text>
<line x1="382.30" y1="486.40" x2="382.30" y2="609.60" stroke="#000" stroke-width="1.6"/>
<line x1="377.50" y1="492.60" x2="382.30" y2="492.60" stroke="#000" stroke-width="1.3"/>
<text x="354.83" y="496.5" font-size="12" font-weight="normal" fill="#000" stroke="#000" stroke-width="0.1" textLength="19.42" lengthAdjust="spacingAndGlyphs">100</text>
<line x1="377.50" y1="521.70" x2="382.30" y2="521.70" stroke="#000" stroke-width="1.3"/>
<text x="361.35" y="525.6" font-size="12" font-weight="normal" fill="#000" stroke="#000" stroke-width="0.1" textLength="12.95" lengthAdjust="spacingAndGlyphs">75</text>
<line x1="377.50" y1="550.80" x2="382.30" y2="550.80" stroke="#000" stroke-width="1.3"/>
<text x="361.29" y="554.7" font-size="12" font-weight="normal" fill="#000" stroke="#000" stroke-width="0.1" textLength="12.95" lengthAdjust="spacingAndGlyphs">50</text>
<line x1="377.50" y1="579.90" x2="382.30" y2="579.90" stroke="#000" stroke-width="1.3"/>
<text x="361.35" y="583.8" font-size="12" font-weight="normal" fill="#000" stroke="#000" stroke-width="0.1" textLength="12.95" lengthAdjust="spacingAndGlyphs">25</text>
<line x1="377.50" y1="608.90" x2="382.30" y2="608.90" stroke="#000" stroke-width="1.3"/>
<text x="367.75" y="612.8" font-size="12" font-weight="normal" fill="#000" stroke="#000" stroke-width="0.1" textLength="6.47" lengthAdjust="spacingAndGlyphs">0</text>
<line x1="381.50" y1="608.80" x2="508.80" y2="608.80" stroke="#000" stroke-width="1.6"/>
<line x1="391.75" y1="608.80" x2="391.75" y2="613.80" stroke="#000" stroke-width="1.3"/>
<line x1="413.50" y1="608.80" x2="413.50" y2="613.80" stroke="#000" stroke-width="1.3"/>
<line x1="435.00" y1="608.80" x2="435.00" y2="613.80" stroke="#000" stroke-width="1.3"/>
<line x1="456.25" y1="608.80" x2="456.25" y2="613.80" stroke="#000" stroke-width="1.3"/>
<line x1="477.50" y1="608.80" x2="477.50" y2="613.80" stroke="#000" stroke-width="1.3"/>
<line x1="499.25" y1="608.80" x2="499.25" y2="613.80" stroke="#000" stroke-width="1.3"/>
<text transform="translate(352.30,666.45) rotate(-45)" x="0" y="0" font-size="11.2" fill="#000" stroke="#000" stroke-width="0.2">Empty LNP</text>
<text transform="translate(381.64,658.86) rotate(-45)" x="0" y="0" font-size="11.8" fill="#000" stroke="#000" stroke-width="0.2">hsiFga-1</text>
<text transform="translate(403.14,658.86) rotate(-45)" x="0" y="0" font-size="11.8" fill="#000" stroke="#000" stroke-width="0.2">hsiFga-2</text>
<text transform="translate(424.39,658.86) rotate(-45)" x="0" y="0" font-size="11.8" fill="#000" stroke="#000" stroke-width="0.2">hsiFga-3</text>
<text transform="translate(445.64,658.86) rotate(-45)" x="0" y="0" font-size="11.8" fill="#000" stroke="#000" stroke-width="0.2">hsiFga-4</text>
<text transform="translate(467.39,658.86) rotate(-45)" x="0" y="0" font-size="11.8" fill="#000" stroke="#000" stroke-width="0.2">hsiFga-5</text>
<circle cx="386.75" cy="492.60" r="2.45" fill="#c80a2b"/>
<circle cx="391.75" cy="492.60" r="2.45" fill="#c80a2b"/>
<circle cx="397.00" cy="492.60" r="2.45" fill="#c80a2b"/>
<line x1="413.50" y1="589.25" x2="413.50" y2="596.25" stroke="#000" stroke-width="1.3"/>
<line x1="410.00" y1="589.25" x2="417.00" y2="589.25" stroke="#000" stroke-width="1.3"/>
<line x1="410.00" y1="596.25" x2="417.00" y2="596.25" stroke="#000" stroke-width="1.3"/>
<line x1="410.00" y1="593.00" x2="417.00" y2="593.00" stroke="#000" stroke-width="1.6"/>
<circle cx="413.50" cy="588.00" r="2.45" fill="#c80a2b"/>
<circle cx="413.50" cy="592.50" r="2.45" fill="#c80a2b"/>
<circle cx="413.50" cy="598.25" r="2.45" fill="#c80a2b"/>
<line x1="435.00" y1="576.75" x2="435.00" y2="591.75" stroke="#000" stroke-width="1.3"/>
<line x1="431.50" y1="576.75" x2="438.50" y2="576.75" stroke="#000" stroke-width="1.3"/>
<line x1="431.50" y1="591.75" x2="438.50" y2="591.75" stroke="#000" stroke-width="1.3"/>
<line x1="431.50" y1="584.25" x2="438.50" y2="584.25" stroke="#000" stroke-width="1.6"/>
<circle cx="435.00" cy="569.25" r="2.45" fill="#c80a2b"/>
<circle cx="435.00" cy="588.75" r="2.45" fill="#c80a2b"/>
<circle cx="435.00" cy="594.50" r="2.45" fill="#c80a2b"/>
<line x1="456.25" y1="583.00" x2="456.25" y2="599.50" stroke="#000" stroke-width="1.3"/>
<line x1="452.75" y1="583.00" x2="459.75" y2="583.00" stroke="#000" stroke-width="1.3"/>
<line x1="452.75" y1="599.50" x2="459.75" y2="599.50" stroke="#000" stroke-width="1.3"/>
<line x1="452.75" y1="591.25" x2="459.75" y2="591.25" stroke="#000" stroke-width="1.6"/>
<circle cx="456.25" cy="575.75" r="2.45" fill="#c80a2b"/>
<circle cx="451.25" cy="600.75" r="2.45" fill="#c80a2b"/>
<circle cx="461.25" cy="597.50" r="2.45" fill="#c80a2b"/>
<line x1="477.50" y1="579.50" x2="477.50" y2="599.50" stroke="#000" stroke-width="1.3"/>
<line x1="474.00" y1="579.50" x2="481.00" y2="579.50" stroke="#000" stroke-width="1.3"/>
<line x1="474.00" y1="599.50" x2="481.00" y2="599.50" stroke="#000" stroke-width="1.3"/>
<line x1="474.00" y1="589.25" x2="481.00" y2="589.25" stroke="#000" stroke-width="1.6"/>
<circle cx="477.50" cy="571.25" r="2.45" fill="#c80a2b"/>
<circle cx="477.50" cy="595.75" r="2.45" fill="#c80a2b"/>
<circle cx="477.50" cy="603.25" r="2.45" fill="#c80a2b"/>
<line x1="499.25" y1="596.25" x2="499.25" y2="601.25" stroke="#000" stroke-width="1.3"/>
<line x1="495.75" y1="596.25" x2="502.75" y2="596.25" stroke="#000" stroke-width="1.3"/>
<line x1="495.75" y1="601.25" x2="502.75" y2="601.25" stroke="#000" stroke-width="1.3"/>
<line x1="495.75" y1="599.00" x2="502.75" y2="599.00" stroke="#000" stroke-width="1.6"/>
<circle cx="494.50" cy="603.00" r="2.45" fill="#c80a2b"/>
<circle cx="499.25" cy="593.75" r="2.45" fill="#c80a2b"/>
<circle cx="504.25" cy="599.50" r="2.45" fill="#c80a2b"/>
<polyline points="391.75,482.50 391.75,477.00 456.25,477.00 456.25,533.75" fill="none" stroke="#000" stroke-width="1.3" stroke-linejoin="miter"/>
<line x1="413.50" y1="533.75" x2="499.25" y2="533.75" stroke="#000" stroke-width="1.3"/>
<line x1="413.50" y1="533.10" x2="413.50" y2="539.25" stroke="#000" stroke-width="1.3"/>
<line x1="435.00" y1="533.10" x2="435.00" y2="539.25" stroke="#000" stroke-width="1.3"/>
<line x1="456.25" y1="533.10" x2="456.25" y2="539.25" stroke="#000" stroke-width="1.3"/>
<line x1="477.50" y1="533.10" x2="477.50" y2="539.25" stroke="#000" stroke-width="1.3"/>
<line x1="499.25" y1="533.10" x2="499.25" y2="539.25" stroke="#000" stroke-width="1.3"/>
<polygon points="419.20,470.05 419.78,471.71 421.53,471.74 420.13,472.80 420.64,474.48 419.20,473.48 417.76,474.48 418.27,472.80 416.87,471.74 418.62,471.71" fill="#000"/>
<polygon points="424.50,470.05 425.08,471.71 426.83,471.74 425.43,472.80 425.94,474.48 424.50,473.48 423.06,474.48 423.57,472.80 422.17,471.74 423.92,471.71" fill="#000"/>
<polygon points="429.80,470.05 430.38,471.71 432.13,471.74 430.73,472.80 431.24,474.48 429.80,473.48 428.36,474.48 428.87,472.80 427.47,471.74 429.22,471.71" fill="#000"/>
<text transform="translate(335.0,607.1) rotate(-90)" x="-0.85" y="0" font-size="13.6" font-weight="normal" fill="#000" stroke="#000" stroke-width="0.2" textLength="115.70" lengthAdjust="spacingAndGlyphs">Relative <tspan font-style="italic">FGA</tspan> mRNA (%)</text>
<text transform="translate(351.9,583.8) rotate(-90)" x="-0.73" y="0" font-size="13.6" font-weight="normal" fill="#000" stroke="#000" stroke-width="0.2" textLength="67.74" lengthAdjust="spacingAndGlyphs">in HUH7 cells</text>
<rect x="0" y="0" width="520" height="1.5" fill="#000"/>
<rect x="0" y="0" width="1.5" height="677" fill="#000"/>
<rect x="518" y="0" width="2" height="677" fill="#000"/>
<rect x="0" y="675" width="520" height="2" fill="#000"/>
</svg></body></html>
